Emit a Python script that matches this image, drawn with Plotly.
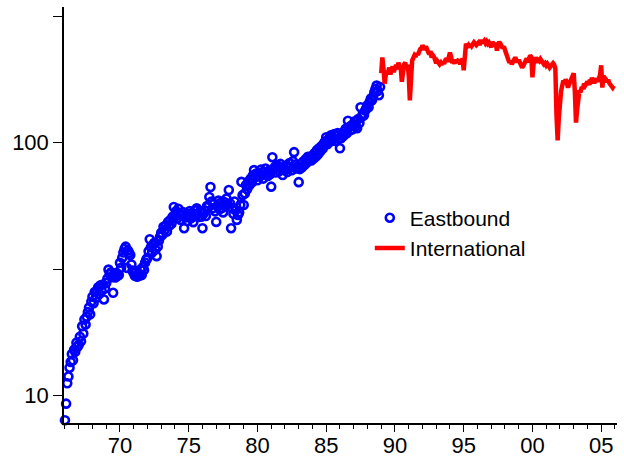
import numpy as np
import plotly.graph_objects as go

# Eastbound: monthly observations, Jan 1966 - Dec 1988
eastbound_start = 1966.0
eastbound = [
    # 1966
    8.0, 9.3, 11.2, 11.9, 12.9, 13.6, 14.6, 13.8, 15.2, 14.9, 16.2, 15.6,
    # 1967
    15.9, 17.1, 16.4, 18.8, 17.6, 20.0, 19.1, 20.5, 21.4, 22.3, 21.0, 23.5,
    # 1968
    24.6, 23.2, 25.7, 24.4, 26.1, 26.8, 25.2, 27.3, 26.0, 27.5, 24.0, 26.5,
    # 1969
    27.9, 29.0, 31.5, 30.2, 30.7, 29.4, 25.5, 30.1, 29.3, 30.6, 29.8, 30.0,
    # 1970
    33.5, 32.0, 35.1, 36.8, 38.0, 38.8, 32.0, 37.5, 36.7, 36.0, 33.0, 31.2,
    # 1971
    30.5, 29.8, 31.0, 29.5, 30.2, 29.8, 31.5, 30.0, 32.2, 31.4, 33.6, 34.5,
    # 1972
    35.0, 37.2, 41.5, 38.6, 36.8, 39.5, 40.2, 37.8, 35.6, 38.9, 41.0, 42.5,
    # 1973
    44.0, 43.2, 46.5, 45.1, 47.0, 44.5, 48.6, 46.9, 49.5, 47.8, 51.0, 55.7,
    # 1974
    51.0, 53.5, 50.2, 54.8, 52.0, 49.5, 51.8, 53.2, 45.9, 50.6, 52.4, 49.0,
    # 1975
    51.5, 53.7, 50.3, 52.8, 48.5, 51.2, 54.0, 55.0, 52.1, 50.8, 53.6, 51.0,
    # 1976
    45.9, 52.5, 54.0, 51.3, 56.2, 55.8, 61.0, 66.8, 58.5, 55.0, 57.2, 53.5,
    # 1977
    48.6, 56.0, 59.0, 54.5, 57.8, 55.2, 53.0, 58.2, 56.5, 60.1, 57.0, 65.0,
    # 1978
    57.6, 45.9, 55.0, 52.3, 58.5, 54.0, 49.5, 51.8, 53.0, 56.7, 70.0, 62.0,
    # 1979
    56.7, 63.0, 68.0, 65.5, 70.2, 67.8, 72.0, 69.5, 74.1, 77.9, 73.0, 75.5,
    # 1980
    71.0, 76.0, 73.5, 78.2, 74.8, 72.1, 76.5, 79.0, 75.2, 73.8, 77.5, 75.0,
    # 1981
    67.0, 87.6, 78.5, 80.0, 76.2, 81.5, 79.3, 77.0, 82.4, 79.8, 74.5, 78.8,
    # 1982
    78.0, 81.2, 76.5, 79.5, 83.0, 80.1, 77.8, 84.5, 91.7, 82.0, 79.0, 80.5,
    # 1983
    69.8, 78.6, 82.5, 80.0, 84.2, 81.5, 86.0, 83.2, 88.0, 85.4, 87.5, 85.0,
    # 1984
    89.0, 86.5, 91.0, 88.2, 93.5, 90.0, 95.2, 92.5, 97.0, 94.8, 99.5, 101.0,
    # 1985
    105.0, 98.6, 103.2, 100.5, 106.8, 102.0, 104.5, 108.2, 101.5, 106.0, 109.0, 103.5,
    # 1986
    95.0, 104.0, 108.5, 106.2, 111.0, 113.5, 109.0, 122.0, 115.2, 111.8, 117.0, 113.0,
    # 1987
    118.0, 121.5, 116.0, 114.0, 124.0, 119.5, 138.0, 126.5, 130.0, 128.2, 134.0, 136.5,
    # 1988
    140.5, 138.0, 145.0, 149.5, 147.0, 152.0, 158.0, 163.0, 168.0, 160.0, 154.0, 166.0,
]

# International: monthly observations, Jan 1989 - Dec 2005
international_start = 1989.0
international = [
    # 1989
    188, 217, 196, 171, 185, 192, 189, 198, 186, 193, 200, 190,
    # 1990
    197, 203, 195, 207, 201, 199, 174, 190, 204, 207, 198, 203,
    # 1991
    186, 147, 199, 211, 216, 221, 218, 226, 222, 230, 234, 236,
    # 1992
    242, 238, 233, 240, 231, 228, 224, 230, 217, 222, 219, 213,
    # 1993
    206, 210, 208, 204, 207, 203, 209, 205, 212, 215, 209, 218,
    # 1994
    227, 219, 206, 211, 205, 213, 208, 211, 210, 204, 212, 215,
    # 1995
    193, 230, 246, 240, 243, 238, 245, 241, 244, 249, 246, 243,
    # 1996
    246, 249, 244, 250, 254, 248, 252, 247, 251, 246, 249, 244,
    # 1997
    238, 250, 246, 241, 248, 231, 244, 250, 246, 242, 236, 240,
    # 1998
    231, 226, 218, 212, 207, 210, 204, 209, 214, 217, 212, 208,
    # 1999
    212, 206, 203, 198, 201, 206, 212, 215, 208, 214, 221, 218,
    # 2000
    181, 205, 217, 213, 207, 212, 210, 214, 211, 208, 204, 206,
    # 2001
    202, 205, 199, 198, 201, 204, 206, 203, 196, 128, 102, 125,
    # 2002
    147, 160, 168, 176, 171, 178, 172, 165, 170, 175, 182, 188,
    # 2003
    188, 160, 120, 135, 152, 161, 158, 166, 163, 171, 168, 174,
    # 2004
    174, 169, 177, 175, 180, 176, 172, 176, 179, 174, 181, 185,
    # 2005
    202, 165, 183, 181, 178, 174, 177, 172, 170, 168, 165, 168,
]

# Axis ticks
x_tickvals = [1970, 1975, 1980, 1985, 1990, 1995, 2000, 2005]
x_ticktext = ["70", "75", "80", "85", "90", "95", "00", "05"]
y_tickvals = [10, 31.6228, 100, 316.228]
y_ticktext = ["10", "", "100", ""]

east_x = eastbound_start + np.arange(len(eastbound)) / 12.0
intl_x = international_start + np.arange(len(international)) / 12.0

FONT = "Liberation Sans, Arial, sans-serif"

fig = go.Figure()
fig.add_trace(go.Scatter(
    x=east_x, y=eastbound, mode="markers", name="Eastbound",
    legendgroup="e",
    marker=dict(symbol="circle-open", size=8, color="#0000FF",
                line=dict(width=2.6, color="#0000FF")),
    cliponaxis=False,
))
fig.add_trace(go.Scatter(
    x=intl_x, y=international, mode="lines", name="International",
    legendgroup="i",
    line=dict(color="#FF0000", width=4.5),
    cliponaxis=False,
))

fig.update_layout(
    width=624, height=459,
    margin=dict(l=64, r=7, t=7, b=36, autoexpand=False),
    paper_bgcolor="white", plot_bgcolor="white",
    font=dict(family=FONT, size=22, color="black"),
    showlegend=True,
    legend=dict(x=0.553, y=0.542, xanchor="left", yanchor="top",
                bgcolor="rgba(0,0,0,0)", borderwidth=0,
                font=dict(family=FONT, size=21, color="black"),
                tracegroupgap=0, itemwidth=30),
    xaxis=dict(
        range=[1965.93, 2006.15], showgrid=False, zeroline=False,
        automargin=False,
        showline=True, linecolor="black", linewidth=1.5,
        ticks="outside", ticklen=7, tickwidth=1.2, tickcolor="black",
        tickvals=x_tickvals, ticktext=x_ticktext,
        tickfont=dict(family=FONT, size=22, color="black"),
        ticklabelstandoff=-5,
        minor=dict(dtick=1, tick0=1966, ticks="outside", ticklen=4,
                   tickwidth=1.2, tickcolor="black", showgrid=False),
    ),
    yaxis=dict(
        type="log", range=[0.892, 2.536], showgrid=False, zeroline=False,
        automargin=False,
        showline=True, linecolor="black", linewidth=1.5,
        ticks="outside", ticklen=9, tickwidth=1.2, tickcolor="black",
        tickvals=y_tickvals, ticktext=y_ticktext,
        tickfont=dict(family=FONT, size=22, color="black"),
    ),
)

fig.write_html("out.html")
